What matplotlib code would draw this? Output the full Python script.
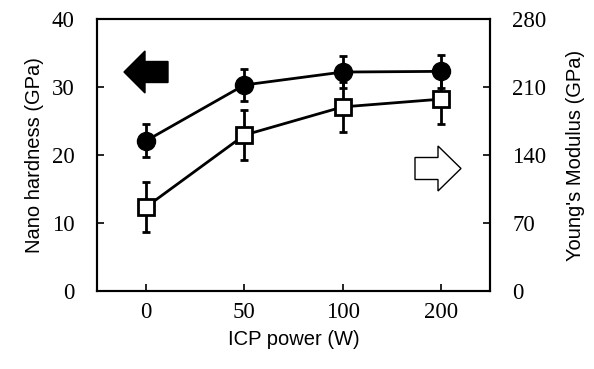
import numpy as np
import matplotlib
matplotlib.use("Agg")
import matplotlib.pyplot as plt
from matplotlib.patches import Polygon

# datos
power_labels = ["0", "50", "100", "200"]
hardness = [22.1, 30.3, 32.2, 32.3]        # GPa (eje izq.)
hardness_err = [2.4, 2.4, 2.4, 2.4]
modulus = [86.5, 160.5, 189.5, 197.5]      # GPa (eje der.)
modulus_err = [25.5, 25.5, 26.0, 25.5]

SERIF = "Liberation Serif"
SANS = "Liberation Sans"

x = np.arange(len(power_labels))

fig = plt.figure(figsize=(5.94, 3.69), dpi=100)
ax = fig.add_axes([97/594, 1 - 291/369, (490-97)/594, (291-19)/369])
ax2 = ax.twinx()

ax.errorbar(x, hardness, yerr=hardness_err, fmt="-o", color="k", mfc="k", mec="k",
            ms=13, lw=2.0, elinewidth=2.0, capsize=3, capthick=2.0, zorder=3)
ax2.errorbar(x, modulus, yerr=modulus_err, fmt="-s", color="k", mfc="white", mec="k",
             mew=2.0, ms=11, lw=2.0, elinewidth=2.0, capsize=3, capthick=2.0, zorder=3)

ax.set_xlim(-0.5, 3.5)
ax.set_ylim(0, 40)
ax2.set_ylim(0, 280)
ax.set_yticks([0, 10, 20, 30, 40])
ax2.set_yticks([0, 70, 140, 210, 280])
ax.set_xticks(x)
ax.set_xticklabels(power_labels)

for a in (ax, ax2):
    a.tick_params(direction="in", length=5, width=1.2, labelsize=16.5, pad=16)
    for lbl in a.get_xticklabels() + a.get_yticklabels():
        lbl.set_fontfamily(SERIF)
    for s in a.spines.values():
        s.set_linewidth(1.5)
ax.tick_params(axis="x", pad=8)

ax.set_xlabel("ICP power (W)", fontsize=14.5, family=SANS, labelpad=5)
ax.set_ylabel("Nano hardness (GPa)", fontsize=14.5, family=SANS, labelpad=6)
ax2.set_ylabel("Young's Modulus (GPa)", fontsize=14.5, family=SANS, labelpad=14)

# flechas indicando el eje
def arrow(x0, x1, xh, yc, hh, th, fc):
    # x0: punta, xh: base de la cabeza, x1: cola (coords de ejes)
    pts = [(x0, yc), (xh, yc + hh), (xh, yc + th), (x1, yc + th),
           (x1, yc - th), (xh, yc - th), (xh, yc - hh)]
    ax.add_patch(Polygon(pts, closed=True, transform=ax.transAxes, fc=fc, ec="k",
                         lw=1.0, zorder=4))

arrow((124-97)/393, (168-97)/393, (145-97)/393, 1 - (72-19)/272,
      21/272, 10.5/272, "k")
arrow((461-97)/393, (415-97)/393, (438-97)/393, 1 - (168.5-19)/272,
      22.5/272, 11/272, "white")

fig.savefig("out.png", dpi=100)
